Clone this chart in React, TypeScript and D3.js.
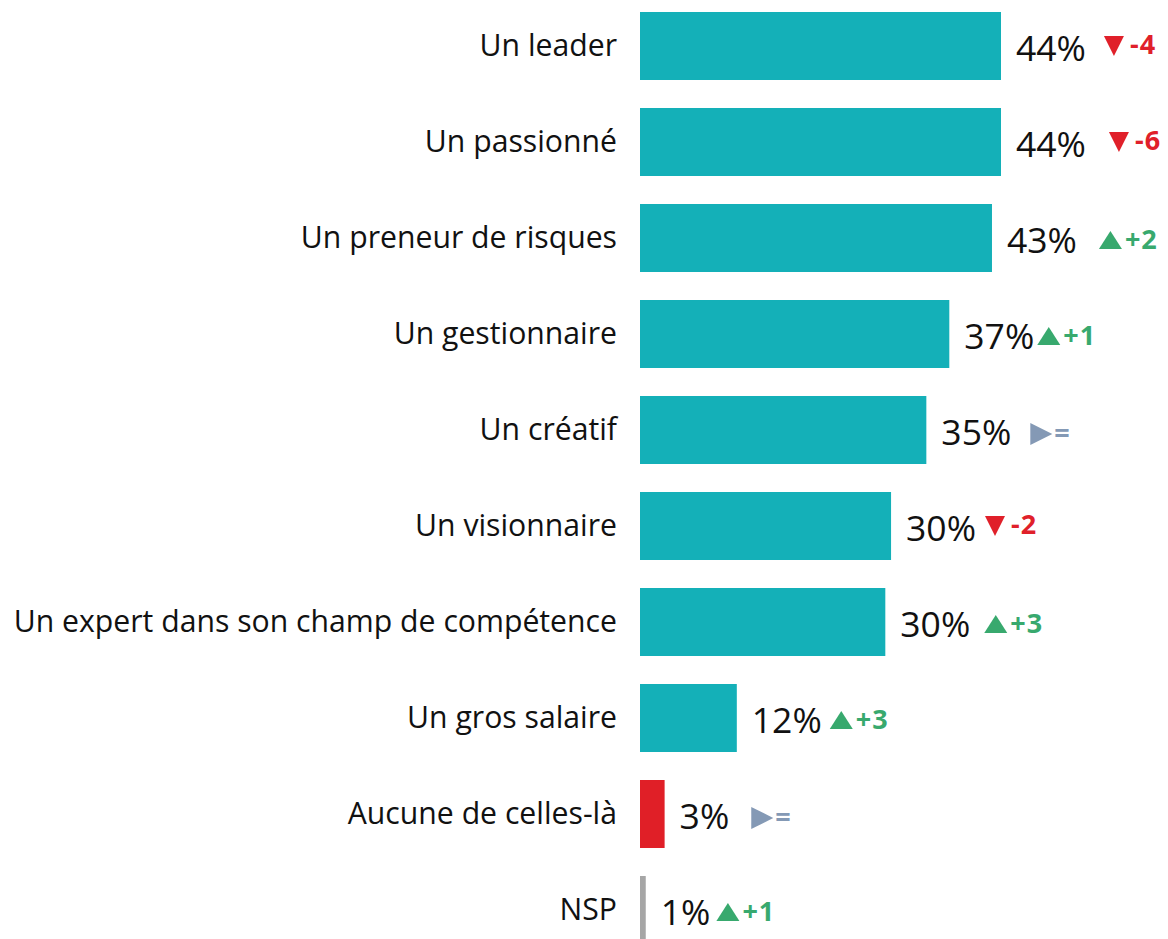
import React, { useEffect, useRef } from "react";
import * as d3 from "d3";

const categories = [
  "Un leader",
  "Un passionné",
  "Un preneur de risques",
  "Un gestionnaire",
  "Un créatif",
  "Un visionnaire",
  "Un expert dans son champ de compétence",
  "Un gros salaire",
  "Aucune de celles-là",
  "NSP",
];
const values = [44.0, 44.0, 42.9, 37.7, 34.9, 30.6, 29.9, 11.8, 3.0, 0.7];
const valueLabels = ["44%", "44%", "43%", "37%", "35%", "30%", "30%", "12%", "3%", "1%"];
const deltas = [-4, -6, 2, 1, 0, -2, 3, 3, 0, 1];
const deltaGaps = [18, 23, 22, 3, 19, 9, 14, 8, 22, 6];
const barKinds = ["main", "main", "main", "main", "main", "main", "main", "main", "none", "nsp"];

const W = 1168;
const H = 939;

export default function App() {
  const ref = useRef<SVGSVGElement | null>(null);

  useEffect(() => {
    const svg = d3.select(ref.current);
    svg.selectAll("*").remove();

    const y = d3
      .scaleBand<string>()
      .domain(categories)
      .range([-2, 958])
      .paddingInner(0.2917)
      .paddingOuter(0.1458);
    const x = d3.scaleLinear().domain([0, 44]).range([640, 1001]);

    const colorFor = (k: string) =>
      k === "none" ? "#e01f27" : k === "nsp" ? "#a6a6a6" : "#14b0b8";

    const font = "'Open Sans', 'Noto Sans', sans-serif";

    categories.forEach((c, i) => {
      const y0 = y(c)!;
      const bw = y.bandwidth();
      const cy = y0 + bw / 2;
      svg
        .append("rect")
        .attr("x", x(0))
        .attr("y", y0)
        .attr("width", x(values[i]) - x(0))
        .attr("height", bw)
        .attr("fill", colorFor(barKinds[i]));

      svg
        .append("text")
        .attr("x", 617)
        .attr("y", cy + 10)
        .attr("text-anchor", "end")
        .attr("font-family", font)
        .attr("font-size", 30.2)
        .attr("fill", "#111")
        .text(c);

      const vt = svg
        .append("text")
        .attr("x", x(values[i]) + 15)
        .attr("y", cy + 15)
        .attr("font-family", font)
        .attr("font-size", 35.5)
        .attr("font-weight", 400)
        .attr("fill", "#111")
        .text(valueLabels[i]);
      const vEnd = x(values[i]) + 15 + (vt.node() as SVGTextElement).getComputedTextLength();

      const d = deltas[i];
      const tx = vEnd + deltaGaps[i];
      const col = d < 0 ? "#e0202a" : d > 0 ? "#38a96e" : "#8499b5";
      let path: string;
      let textX: number;
      let textY: number;
      if (d < 0) {
        path = `M${tx},${cy - 10} L${tx + 20},${cy - 10} L${tx + 10},${cy + 10} Z`;
        textX = tx + 26;
        textY = cy + 8;
      } else if (d > 0) {
        path = `M${tx},${cy + 11} L${tx + 23},${cy + 11} L${tx + 11.5},${cy - 7} Z`;
        textX = tx + 26;
        textY = cy + 11;
      } else {
        path = `M${tx},${cy - 7} L${tx + 22},${cy + 4} L${tx},${cy + 15} Z`;
        textX = tx + 24;
        textY = cy + 13;
      }
      svg.append("path").attr("d", path).attr("fill", col);

      svg
        .append("text")
        .attr("x", textX)
        .attr("y", textY)
        .attr("font-family", font)
        .attr("font-size", 27)
        .attr("font-weight", 700)
        .attr("letter-spacing", 1)
        .attr("fill", col)
        .text(d < 0 ? `${d}` : d > 0 ? `+${d}` : "=");
    });
  }, []);

  return (
    <svg
      ref={ref}
      width={W}
      height={H}
      style={{ position: "absolute", left: 0, top: 0, background: "#fff" }}
    />
  );
}
